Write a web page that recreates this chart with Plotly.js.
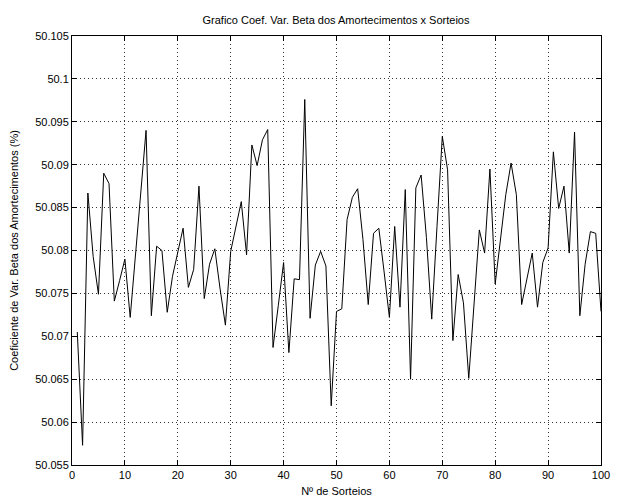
<!DOCTYPE html>
<html>
<head>
<meta charset="utf-8">
<script src="https://cdn.plot.ly/plotly-3.0.1.min.js"></script>
<style>html,body{margin:0;padding:0;background:#fff;}#chart{width:628px;height:502px;}</style>
</head>
<body>
<div id="chart"></div>
<script>
const sorteios = Array.from({length: 100}, (_, i) => i + 1);
const coefVar = [
  50.0705, 50.0573, 50.0867, 50.0793, 50.0749, 50.0890, 50.0878, 50.0741, 50.0765, 50.0790,
  50.0722, 50.0795, 50.0866, 50.0940, 50.0724, 50.0805, 50.0800, 50.0728, 50.0770, 50.0799,
  50.0826, 50.0757, 50.0778, 50.0875, 50.0744, 50.0784, 50.0802, 50.0755, 50.0713, 50.0799,
  50.0828, 50.0857, 50.0795, 50.0923, 50.0899, 50.0929, 50.0941, 50.0687, 50.0736, 50.0786,
  50.0681, 50.0767, 50.0766, 50.0976, 50.0721, 50.0783, 50.0799, 50.0782, 50.0619, 50.0729,
  50.0732, 50.0836, 50.0862, 50.0872, 50.0813, 50.0737, 50.0820, 50.0826, 50.0775, 50.0722,
  50.0828, 50.0734, 50.0871, 50.0650, 50.0873, 50.0888, 50.0815, 50.0720, 50.0828, 50.0933,
  50.0894, 50.0695, 50.0772, 50.0739, 50.0651, 50.0737, 50.0824, 50.0797, 50.0895, 50.0761,
  50.0810, 50.0865, 50.0902, 50.0865, 50.0737, 50.0767, 50.0797, 50.0734, 50.0786, 50.0803,
  50.0915, 50.0849, 50.0875, 50.0797, 50.0938, 50.0724, 50.0784, 50.0822, 50.0820, 50.0729
];
const xTickVals = [0, 10, 20, 30, 40, 50, 60, 70, 80, 90, 100];
const yTickVals = [50.055, 50.06, 50.065, 50.07, 50.075, 50.08, 50.085, 50.09, 50.095, 50.1, 50.105];
const yTickText = ["50.055", "50.06", "50.065", "50.07", "50.075", "50.08", "50.085", "50.09", "50.095", "50.1", "50.105"];

const font = {family: "Liberation Sans, Arial, sans-serif", size: 11, color: "#000"};

Plotly.newPlot("chart", [{
  x: sorteios,
  y: coefVar,
  type: "scatter",
  mode: "lines",
  line: {color: "#000", width: 1},
  hoverinfo: "skip"
}], {
  width: 628,
  height: 502,
  margin: {l: 72, r: 27, t: 36, b: 37},
  paper_bgcolor: "#fff",
  plot_bgcolor: "#fff",
  showlegend: false,
  font: font,
  title: {text: "Grafico Coef. Var. Beta dos Amortecimentos x Sorteios", font: {family: font.family, size: 11, color: "#000"}, x: 0.535, xanchor: "center", y: 0.96, yanchor: "middle"},
  xaxis: {
    range: [0, 100],
    tickmode: "array",
    tickvals: xTickVals,
    ticks: "inside",
    ticklen: 5,
    tickcolor: "#000",
    showline: true,
    linecolor: "#000",
    linewidth: 1,
    mirror: "ticks",
    showgrid: true,
    gridcolor: "#333",
    griddash: "1px,3px",
    gridwidth: 1,
    zeroline: false,
    tickfont: font,
    title: {text: "Nº de Sorteios", font: font, standoff: 7}
  },
  yaxis: {
    range: [50.055, 50.105],
    tickmode: "array",
    tickvals: yTickVals,
    ticktext: yTickText,
    ticks: "inside",
    ticklen: 5,
    tickcolor: "#000",
    showline: true,
    linecolor: "#000",
    linewidth: 1,
    mirror: "ticks",
    showgrid: true,
    gridcolor: "#333",
    griddash: "1px,3px",
    gridwidth: 1,
    zeroline: false,
    tickfont: font,
    title: {text: "Coeficiente de Var. Beta dos Amortecimentos (%)", font: font, standoff: 14}
  }
}, {staticPlot: true, displayModeBar: false});
</script>
</body>
</html>
